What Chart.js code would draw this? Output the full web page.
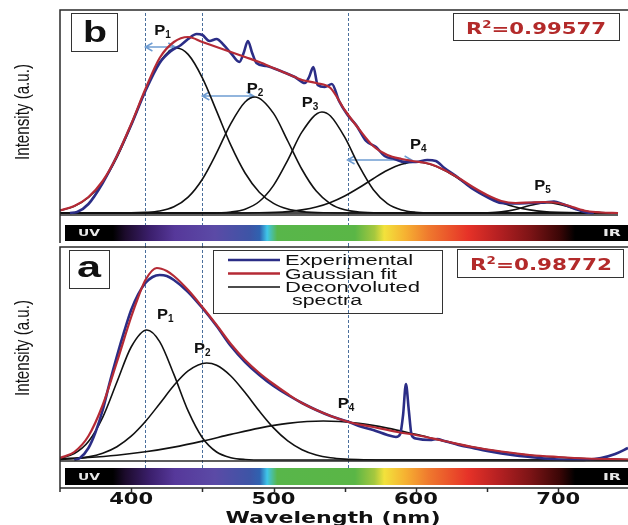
<!DOCTYPE html>
<html>
<head>
<meta charset="utf-8">
<script src="https://cdn.jsdelivr.net/npm/chart.js@4.4.1/dist/chart.umd.min.js"></script>
<style>
  html, body { margin: 0; padding: 0; background: #fff; }
  #wrap { position: relative; width: 628px; height: 525px; overflow: hidden; }
  #wrap canvas { position: absolute; left: 0; }
  #chartB { top: 0; }
  #chartA { top: 245px; }
</style>
</head>
<body>
<div id="wrap">
  <canvas id="chartB" width="628" height="245"></canvas>
  <canvas id="chartA" width="628" height="280"></canvas>
</div>
<script>
// ── DATA: [wavelength nm, intensity a.u.] ────────────────────────────────
// panel b
const B_EXP = [[357,0],[362,1],[370,9],[380,30],[390,57],[400,88],[410,122],[420,150],[428,162],[435,168],[440,174],[446,179],[450,178],[455,172],[460,174],[465,168],[470,160],[476,151],[479,160],[482,172],[485,160],[488,150],[495,147],[505,142],[515,136],[522,130],[525,136],[528,146],[531,128],[536,126],[541,129],[546,112],[552,98],[558,88],[565,72],[572,66],[578,57],[585,54],[592,51],[600,51],[608,53],[614,52],[620,45],[630,35],[640,24],[650,16],[660,10],[670,9.5],[680,10],[690,10.5],[697,11.5],[703,9],[712,4],[720,0.5],[725,0]];
const B_FIT = [[350,2.6],[360,7],[370,16],[380,32],[390,57],[400,89],[410,124],[420,155],[430,171],[440,176],[450,171],[460,166],[470,161],[480,156],[490,151],[500,145],[510,139],[520,133],[530,130],[540,125],[550,103],[560,84],[570,67],[580,58],[590,54],[600,51.5],[610,49],[620,43],[630,35],[640,26],[650,18],[660,12],[670,10],[680,10.5],[690,11],[700,10],[710,6],[720,2],[730,0.5],[742,0]];
const B_P1 = [[350,2.6],[360,6.8],[370,15.5],[380,31.3],[390,55.7],[400,87.9],[410,122.5],[420,151],[432,165],[440,158.6],[450,135.2],[460,101.9],[470,67.8],[480,40],[490,20.8],[500,9.6],[510,3.9],[520,1.4],[535,0.2],[560,0],[742,0]];
const B_P2 = [[350,0],[400,0.1],[410,0.6],[420,2],[430,6.2],[440,15.9],[450,33.8],[460,60.1],[470,89.4],[480,111],[487,116],[500,99.6],[510,72],[520,43.5],[530,21.9],[540,9.2],[550,3.2],[560,1],[575,0.1],[590,0],[742,0]];
const B_P3 = [[350,0],[455,0],[470,1],[480,3.8],[490,11.5],[500,27.6],[510,52.9],[520,81.1],[534,101],[540,97],[550,75.8],[560,47.3],[570,23.6],[580,9.4],[590,3],[600,0.8],[615,0.1],[630,0],[742,0]];
const B_P4 = [[350,0],[470,0],[490,0.2],[510,1.4],[520,3.1],[530,5.9],[540,10.5],[550,17],[560,25.2],[570,34.3],[580,42.8],[590,48.8],[600,51],[610,48.8],[620,42.8],[630,34.3],[640,25.2],[650,17],[660,10.5],[670,5.9],[680,3.1],[690,1.4],[700,0.6],[715,0.1],[742,0]];
const B_P5 = [[350,0],[640,0],[650,0.2],[660,1.1],[670,3.5],[680,7.5],[692,10.3],[700,8.9],[710,5],[720,1.8],[730,0.4],[742,0]];

// panel a
const A_EXP = [[360,0],[364,2],[370,12],[375,28],[380,50],[385,78],[390,104],[395,128],[400,150],[405,166],[410,177],[415,183],[420,185],[425,184],[430,180],[440,168],[450,152],[460,134],[470,114],[480,98],[490,85],[500,74],[510,65],[520,57],[530,50],[540,44],[552,38.5],[560,34],[570,30],[580,25],[586,23],[589,26],[591,45],[593,76],[595,50],[597,25],[600,21.5],[610,20],[615,21],[620,19],[630,15],[640,12],[650,9],[660,6.5],[670,4.5],[680,3],[690,1.5],[700,0.5],[710,0],[720,0.3],[730,2],[740,6],[749,12]];
const A_FIT = [[350,2],[360,8],[370,24],[380,55],[390,98],[400,143],[405,163],[410,180],[418,192],[425,189],[430,184],[440,170],[450,153],[460,135],[470,116],[480,100],[490,87],[500,76],[510,66],[520,57],[535,47],[552,38.3],[570,33],[587,28],[600,25],[620,19],[640,13],[660,8.5],[680,5],[700,3],[720,1.5],[749,0.5]];
const A_P1 = [[350,1.7],[360,6.4],[370,18.5],[380,42.7],[390,78],[400,113],[411,130],[420,118.4],[430,85.6],[440,49.1],[450,22.3],[460,8],[470,2.3],[480,0.5],[495,0],[749,0]];
const A_P2 = [[350,0.5],[360,1.3],[370,3.1],[380,6.8],[390,13.3],[400,23.8],[410,38.5],[420,56.3],[430,74.5],[440,89.1],[453,97],[460,94.7],[470,84],[480,67.4],[490,48.9],[500,32.1],[510,19.1],[520,10.3],[530,5],[540,2.2],[550,0.9],[565,0.2],[580,0],[749,0]];
const A_P4 = [[350,1.3],[370,2.6],[390,4.8],[410,8.2],[430,12.9],[450,18.9],[470,25.6],[490,31.9],[510,36.6],[535,39],[560,36.6],[580,31.9],[600,25.6],[620,18.9],[640,12.9],[660,8.2],[680,4.8],[700,2.6],[720,1.3],[740,0.6],[749,0.4]];

// peak markers, shift arrows, reference lines
const B_PEAKS  = [['1',422,183],['2',487,125],['3',525.7,111],['4',601.6,69],['5',689,28]];
const A_PEAKS  = [['1',424,146],['2',450,112],['4',551,57]];
const B_SHIFTS = [[410,431,166],[450,486,117],[552,597,53]];
const REF_NM   = [410,450,552];
const X_TICKS  = [400,450,500,550,600,650,700];
const X_LABELS = [400,500,600,700];
const LEGEND   = ['Experimental','Gaussian fit','Deconvoluted'];

// ── STYLE ────────────────────────────────────────────────────────────────
const C_EXP = '#2b2d86', C_FIT = '#b52a35', C_DEC = '#111111';
const C_REF = '#4a6f9c', C_ARROW = '#6f9dd2', C_R2 = '#b32a2a';
const RAINBOW = [
  [0.000,'#000000'],[0.085,'#000000'],[0.107,'#1c0b2c'],[0.151,'#3b1f6c'],
  [0.195,'#56389a'],[0.266,'#5b4aa6'],[0.329,'#3d55a6'],[0.346,'#2f62b0'],
  [0.359,'#3fc6ea'],[0.377,'#58b64a'],[0.515,'#5ab646'],[0.550,'#a6c83e'],
  [0.567,'#f2e23c'],[0.604,'#f6b232'],[0.645,'#ef7a2e'],[0.716,'#e63228'],
  [0.770,'#b52022'],[0.826,'#7d1416'],[0.879,'#3a0606'],[0.906,'#000000'],[1,'#000000']
];

const pts = arr => arr.map(([x, y]) => ({ x, y }));
const line = (data, color, width) => ({
  data: pts(data), borderColor: color, borderWidth: width,
  pointRadius: 0, fill: false, cubicInterpolationMode: 'monotone',
});

// text squeezed/stretched to a given width
function fitText(ctx, str, x, y, font, width, align) {
  ctx.save();
  ctx.font = font;
  const w = ctx.measureText(str).width;
  ctx.translate(x, y);
  ctx.scale(width ? width / w : 1, 1);
  ctx.textAlign = align || 'left';
  ctx.fillText(str, 0, 0);
  ctx.restore();
}

function spectrumBar(ctx, x0, x1, y0, y1) {
  const g = ctx.createLinearGradient(x0, 0, x1, 0);
  RAINBOW.forEach(([p, c]) => g.addColorStop(p, c));
  ctx.fillStyle = g;
  ctx.fillRect(x0, y0, x1 - x0, y1 - y0);
  ctx.fillStyle = '#e8e8e8';
  const ym = (y0 + y1) / 2 + 3;
  fitText(ctx, 'UV', x0 + 13, ym, 'bold 8px "DejaVu Sans"', 22);
  fitText(ctx, 'IR', x1 - 25, ym, 'bold 8px "DejaVu Sans"', 18);
}

function peakLabel(ctx, px, py, n) {
  ctx.save();
  ctx.fillStyle = '#111';
  ctx.textBaseline = 'alphabetic';
  ctx.font = 'bold 15px "Liberation Sans"';
  const wp = ctx.measureText('P').width * 1.1;
  ctx.font = 'bold 10px "Liberation Sans"';
  const wn = ctx.measureText(n).width;
  const x0 = px - (wp + wn) / 2;
  fitText(ctx, 'P', x0, py + 5, 'bold 15px "Liberation Sans"', wp);
  fitText(ctx, n, x0 + wp, py + 8, 'bold 10px "Liberation Sans"', wn);
  ctx.restore();
}

function r2Box(ctx, box, val, tx, tw, base) {
  ctx.save();
  ctx.strokeStyle = '#333'; ctx.lineWidth = 1;
  ctx.strokeRect(box[0] + 0.5, box[1] + 0.5, box[2], box[3]);
  ctx.fillStyle = C_R2;
  ctx.font = 'bold 16px "DejaVu Sans"';
  const wR = ctx.measureText('R').width, wV = ctx.measureText('=' + val).width;
  ctx.font = 'bold 10px "DejaVu Sans"';
  const w2 = ctx.measureText('2').width;
  const sx = tw / (wR + w2 + wV);
  ctx.translate(tx, base);
  ctx.scale(sx, 1);
  ctx.font = 'bold 16px "DejaVu Sans"';
  ctx.fillText('R', 0, 0);
  ctx.font = 'bold 10px "DejaVu Sans"';
  ctx.fillText('2', wR, -6);
  ctx.font = 'bold 16px "DejaVu Sans"';
  ctx.fillText('=' + val, wR + w2, 0);
  ctx.restore();
}

function letterBox(ctx, box, ch, cx, base) {
  ctx.save();
  ctx.strokeStyle = '#333'; ctx.lineWidth = 1;
  ctx.strokeRect(box[0] + 0.5, box[1] + 0.5, box[2], box[3]);
  ctx.fillStyle = '#111';
  fitText(ctx, ch, cx, base, 'bold 30px "Liberation Sans"', 24, 'center');
  ctx.restore();
}

function yTitle(ctx, cx, cy) {
  ctx.save();
  ctx.translate(cx, cy);
  ctx.rotate(-Math.PI / 2);
  ctx.fillStyle = '#111';
  ctx.textBaseline = 'middle';
  fitText(ctx, 'Intensity (a.u.)', 0, 0, '21px "Liberation Sans Narrow", "Liberation Sans"', 96, 'center');
  ctx.restore();
}

function shiftArrow(ctx, xa, xb, y) {
  ctx.beginPath();
  ctx.moveTo(xa, y); ctx.lineTo(xb, y);
  ctx.moveTo(xa + 7, y - 4); ctx.lineTo(xa, y); ctx.lineTo(xa + 7, y + 4);
  ctx.moveTo(xb - 7, y - 4); ctx.lineTo(xb, y); ctx.lineTo(xb - 7, y + 4);
  ctx.stroke();
}

// ── PANEL DECORATION PLUGIN ──────────────────────────────────────────────
const decor = {
  id: 'decor',
  beforeDatasetsDraw(chart, args, o) {
    const { ctx, chartArea: ca, scales: { x, y } } = chart;
    const W = chart.width;
    ctx.save();
    // reference wavelengths
    ctx.strokeStyle = C_REF; ctx.lineWidth = 1; ctx.setLineDash([3, 2]);
    REF_NM.forEach(nm => {
      const px = Math.round(x.getPixelForValue(nm)) + 0.5;
      ctx.beginPath(); ctx.moveTo(px, o.refTop); ctx.lineTo(px, o.refBottom); ctx.stroke();
    });
    ctx.setLineDash([]);
    // shift arrows
    ctx.strokeStyle = C_ARROW; ctx.lineWidth = 1.5;
    (o.shifts || []).forEach(([a, b, v]) =>
      shiftArrow(ctx, x.getPixelForValue(a), x.getPixelForValue(b), y.getPixelForValue(v)));
    ctx.restore();
  },
  afterDatasetsDraw(chart, args, o) {
    const { ctx, chartArea: ca, scales: { x, y } } = chart;
    const W = chart.width;
    ctx.save();
    // frame + baseline
    ctx.strokeStyle = '#2a2a2a'; ctx.lineWidth = 1.5;
    ctx.beginPath();
    ctx.moveTo(ca.left, o.frameBottom); ctx.lineTo(ca.left, o.frameTop); ctx.lineTo(W, o.frameTop);
    const yb = Math.round(y.getPixelForValue(0)) + o.baseGap;
    ctx.moveTo(ca.left, yb); ctx.lineTo(o.baseEnd, yb);
    ctx.stroke();
    // spectrum strip
    spectrumBar(ctx, ca.left + 5, W, o.bar[0], o.bar[1]);
    // peaks
    o.peaks.forEach(([n, nm, v]) => peakLabel(ctx, x.getPixelForValue(nm), y.getPixelForValue(v), n));
    letterBox(ctx, o.letter.box, o.letter.ch, o.letter.cx, o.letter.base);
    r2Box(ctx, o.r2.box, o.r2.val, o.r2.tx, o.r2.tw, o.r2.base);
    yTitle(ctx, 23, o.titleY);
    ctx.restore();
  }
};

// bottom axis + legend, panel a only
const axisA = {
  id: 'axisA',
  afterDatasetsDraw(chart) {
    const { ctx, chartArea: ca, scales: { x } } = chart;
    ctx.save();
    ctx.strokeStyle = '#2a2a2a'; ctx.lineWidth = 1.5;
    ctx.beginPath();
    ctx.moveTo(ca.left, ca.bottom); ctx.lineTo(chart.width, ca.bottom);
    X_TICKS.forEach(t => {
      const px = Math.round(x.getPixelForValue(t)) + 0.5;
      ctx.moveTo(px, ca.bottom); ctx.lineTo(px, ca.bottom + 4);
    });
    ctx.stroke();
    ctx.fillStyle = '#111';
    X_LABELS.forEach(t =>
      fitText(ctx, String(t), x.getPixelForValue(t), 258.5, 'bold 15px "DejaVu Sans"', 44, 'center'));
    fitText(ctx, 'Wavelength (nm)', 333, 278, 'bold 16px "DejaVu Sans"', 215, 'center');

    // legend
    ctx.strokeStyle = '#333'; ctx.lineWidth = 1;
    ctx.strokeRect(213.5, 5.5, 229, 63);
    const rows = [[C_EXP, 15, 2.5], [C_FIT, 28.5, 2.5], [C_DEC, 42, 1.5]];
    rows.forEach(([c, ly, lw], i) => {
      ctx.strokeStyle = c; ctx.lineWidth = lw;
      ctx.beginPath(); ctx.moveTo(228, ly); ctx.lineTo(280, ly); ctx.stroke();
    });
    ctx.fillStyle = '#111';
    const f = '14px "Liberation Sans"';
    fitText(ctx, LEGEND[0], 285, 20, f, 128);
    fitText(ctx, LEGEND[1], 285, 33.5, f, 112);
    fitText(ctx, LEGEND[2], 285, 47, f, 135);
    fitText(ctx, 'spectra', 292, 60, f, 70);
    ctx.restore();
  }
};

function panel(id, sets, yMin, yMax, pad, deco, extra) {
  return new Chart(document.getElementById(id), {
    type: 'line',
    data: { datasets: sets },
    options: {
      responsive: false, animation: false, parsing: true,
      layout: { padding: pad },
      plugins: { legend: { display: false }, tooltip: { enabled: false }, decor: deco },
      scales: {
        x: { type: 'linear', min: 350, max: 749, display: false },
        y: { min: yMin, max: yMax, display: false }
      }
    },
    plugins: [decor].concat(extra || [])
  });
}

panel('chartB', [
  line(B_FIT, C_FIT, 2.2), line(B_EXP, C_EXP, 2.6),
  line(B_P1, C_DEC, 1.6), line(B_P2, C_DEC, 1.6), line(B_P3, C_DEC, 1.6),
  line(B_P4, C_DEC, 1.6), line(B_P5, C_DEC, 1.6)
], -30, 203, { left: 60, right: 0, top: 10, bottom: 2 }, {
  refTop: 13, refBottom: 245, shifts: B_SHIFTS, frameTop: 10, frameBottom: 243,
  baseGap: 2, baseEnd: 618, bar: [225, 241], peaks: B_PEAKS, titleY: 112,
  letter: { box: [71, 13, 46, 38], ch: 'b', cx: 95, base: 42 },
  r2: { box: [453, 13, 166, 27], val: '0.99577', tx: 466, tw: 140, base: 33.5 }
});

panel('chartA', [
  line(A_FIT, C_FIT, 2.2), line(A_EXP, C_EXP, 2.6),
  line(A_P1, C_DEC, 1.6), line(A_P2, C_DEC, 1.6), line(A_P4, C_DEC, 1.6)
], -28, 213, { left: 60, right: 0, top: 2, bottom: 37 }, {
  refTop: 0, refBottom: 223, shifts: [], frameTop: 2, frameBottom: 247,
  baseGap: 1, baseEnd: 628, bar: [223, 240], peaks: A_PEAKS, titleY: 103,
  letter: { box: [69, 5, 40, 38], ch: 'a', cx: 89, base: 32 },
  r2: { box: [457, 4, 166, 28], val: '0.98772', tx: 470, tw: 142, base: 25 }
}, [axisA]);
</script>
</body>
</html>
